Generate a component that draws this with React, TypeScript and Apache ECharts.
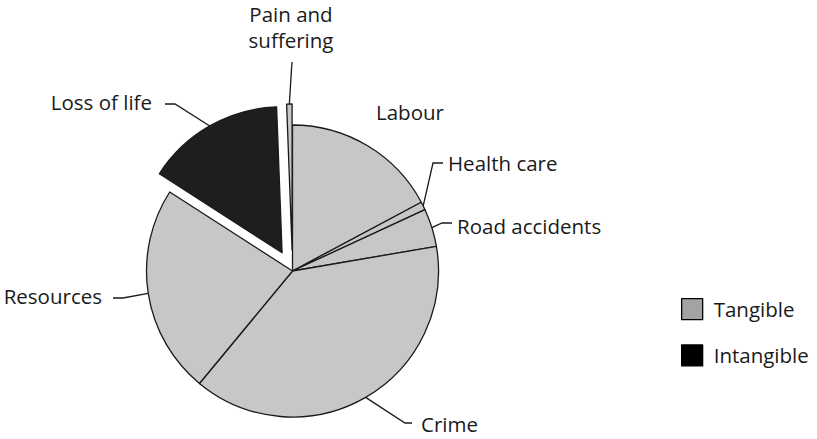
import React, { useEffect, useRef } from 'react';
import * as echarts from 'echarts';

// ---- data ----
const categories = ['Labour', 'Health care', 'Road accidents', 'Crime', 'Resources', 'Loss of life', 'Pain and suffering'];
const shares = [17.2, 0.9, 4.2, 38.7, 23.1, 15.3, 0.6];
const sliceFills = ['#c6c7c9', '#c6c7c9', '#c6c7c9', '#c6c7c9', '#c6c7c9', '#1e1e1e', '#c6c7c9'];
const exploded = [false, false, false, false, false, true, true];
const legendNames = ['Tangible', 'Intangible'];
const legendFills = ['#a3a3a6', '#000000'];

// ---- layout / style ----
const FONT = "'Open Sans', 'Noto Sans', sans-serif";
const FONT_SIZE = 20.5;
const TEXT_COLOR = '#1a1a1a';
const CENTER = [292.5, 271];
const RADIUS = 146;
const EXPLODE = 21;

type Place = { x: number; y: number; align: string; vAlign?: string; gap?: number; len?: number; ly?: number; vertical?: boolean; noLine?: boolean };
const labelPlace: Record<string, Place> = {
  'Labour': { x: 376, y: 112, align: 'left', noLine: true },
  'Health care': { x: 448, y: 163, align: 'left', gap: 5, len: 10, ly: 163 },
  'Road accidents': { x: 457, y: 226, align: 'left', gap: 5, len: 10, ly: 223 },
  'Crime': { x: 421, y: 424, align: 'left', gap: 9, len: 7, ly: 423 },
  'Resources': { x: 102, y: 296, align: 'right', gap: 11, len: 10, ly: 298 },
  'Loss of life': { x: 152, y: 102, align: 'right', gap: 13, len: 10, ly: 104 },
  'Pain and suffering': { x: 291, y: 53, align: 'center', vAlign: 'bottom', vertical: true, gap: 9 },
};

function labelLayout(params: any) {
  const name = categories[params.dataIndex];
  const p = labelPlace[name];
  if (!p) return {};
  const res: any = { x: p.x, y: p.y, align: p.align, verticalAlign: p.vAlign || 'middle' };
  const pts = params.labelLinePoints;
  if (pts && pts.length && !p.noLine) {
    const p0 = pts[0];
    if (p.vertical) {
      const end = [p.x + 1, p.y + (p.gap || 0)];
      res.labelLinePoints = [p0, end, end];
    } else {
      const dir = p.align === 'left' ? -1 : 1;
      const ly = p.ly != null ? p.ly : p.y;
      res.labelLinePoints = [p0, [p.x + dir * ((p.gap || 0) + (p.len || 0)), ly], [p.x + dir * (p.gap || 0), ly]];
    }
  }
  return res;
}

function buildPie(visible: (i: number) => boolean, center: number[]) {
  return {
    type: 'pie',
    center,
    radius: RADIUS,
    startAngle: 90,
    clockwise: true,
    avoidLabelOverlap: false,
    silent: true,
    emphasis: { disabled: true },
    itemStyle: { borderColor: '#1a1a1a', borderWidth: 1.3 },
    label: {
      show: true,
      position: 'outside',
      fontFamily: FONT,
      fontSize: FONT_SIZE,
      color: TEXT_COLOR,
      lineHeight: 26,
      formatter: (p: any) => (p.name === 'Pain and suffering' ? 'Pain and\nsuffering' : p.name),
    },
    labelLine: { show: true, length: 10, length2: 10, smooth: false, lineStyle: { color: '#1a1a1a', width: 1.3 } },
    labelLayout,
    data: categories.map((name, i) =>
      visible(i)
        ? {
            name,
            value: shares[i],
            itemStyle: { color: sliceFills[i] },
            labelLine: { show: !labelPlace[name]?.noLine },
          }
        : {
            name,
            value: shares[i],
            itemStyle: { opacity: 0, borderWidth: 0 },
            label: { show: false },
            labelLine: { show: false },
          }
    ),
  };
}

export default function App() {
  const ref = useRef<HTMLDivElement>(null);
  useEffect(() => {
    if (!ref.current) return;
    const chart = echarts.init(ref.current, undefined, { renderer: 'svg' });
    const total = shares.reduce((a, b) => a + b, 0);
    const series: any[] = [];
    series.push(buildPie((i) => !exploded[i], CENTER));
    let cum = 0;
    shares.forEach((v, i) => {
      const mid = ((cum + v / 2) / total) * Math.PI * 2;
      cum += v;
      if (exploded[i]) {
        const c = [CENTER[0] + EXPLODE * Math.sin(mid), CENTER[1] - EXPLODE * Math.cos(mid)];
        series.push(buildPie((j) => j === i, c));
      }
    });
    // legend key series (invisible)
    series.push({
      type: 'pie',
      name: 'legend-key',
      center: [-200, -200],
      radius: [0, 0],
      silent: true,
      showEmptyCircle: false,
      stillShowZeroSum: false,
      label: { show: false },
      labelLine: { show: false },
      data: legendNames.map((n, i) => ({
        name: n,
        value: 1,
        itemStyle: { color: legendFills[i], borderColor: '#000', borderWidth: 1.3 },
      })),
    });
    chart.setOption({
      animation: false,
      backgroundColor: '#ffffff',
      legend: {
        data: legendNames,
        orient: 'vertical',
        left: 681,
        top: 298,
        padding: 0,
        icon: 'rect',
        itemWidth: 21,
        itemHeight: 21,
        itemGap: 24,
        selectedMode: false,
        itemStyle: { borderColor: '#000', borderWidth: 1.3 },
        textStyle: { fontFamily: FONT, fontSize: FONT_SIZE, color: TEXT_COLOR, padding: [0, 0, 0, 6] },
      },
      series,
    });
    return () => chart.dispose();
  }, []);
  return <div ref={ref} style={{ position: 'absolute', left: 0, top: 0, width: 817, height: 439 }} />;
}
